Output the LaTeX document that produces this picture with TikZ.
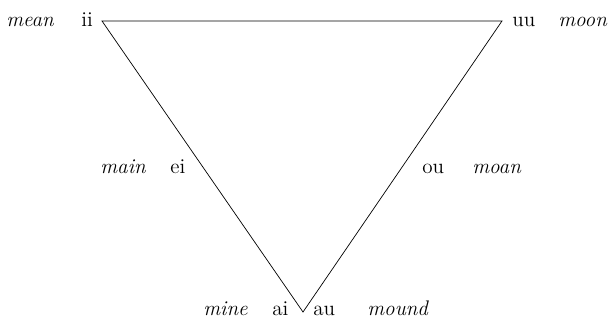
\documentclass[tikz,border=0pt]{standalone}
\usepackage{tikz}
\usetikzlibrary{positioning}

\begin{document}
\begin{tikzpicture}[x=0.02cm, y=-0.02cm,
    vowel/.style={anchor=base west, inner sep=0pt, font=\large},
    word/.style={anchor=base west, inner sep=0pt, font=\large\itshape}]
    \useasboundingbox (0,0) rectangle (615,321);
    % --- corners of the triangle ---
    \coordinate (ii) at (102,21);
    \coordinate (uu) at (502,21);
    \coordinate (ai) at (303,312);
    \draw[thin] (ii) -- (uu) -- (ai) -- cycle;
    % --- top row ---
    \node[word]  (mean)  at (6,27)   {mean};
    \node[vowel] (iiL)   at (81,27)  {ii};
    \node[vowel] (uuL)   at (512,27) {uu};
    \node[word]  (moon)  at (558,27) {moon};
    % --- middle row ---
    \node[word]  (main)  at (100,173) {main};
    \node[vowel] (eiL)   at (170,173) {ei};
    \node[vowel] (ouL)   at (422,173) {ou};
    \node[word]  (moan)  at (472,173) {moan};
    % --- bottom row ---
    \node[word]  (mine)  at (203,315) {mine};
    \node[vowel] (aiL)   at (272,315) {ai};
    \node[vowel] (auL)   at (313,315) {au};
    \node[word]  (mound) at (367,315) {mound};
\end{tikzpicture}
\end{document}
